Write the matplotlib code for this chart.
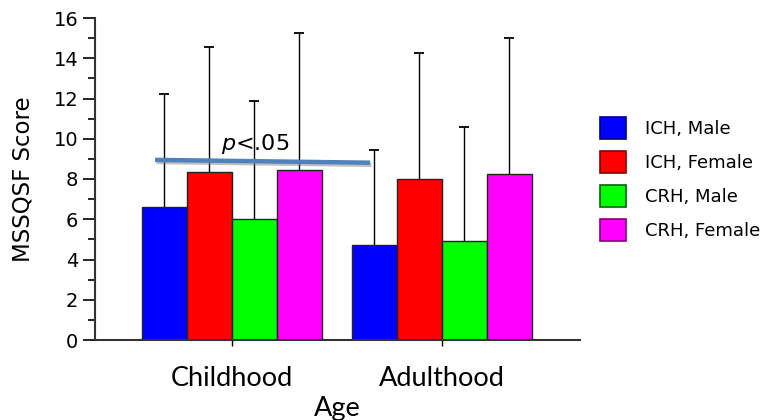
import numpy as np
import matplotlib
matplotlib.use("Agg")
import matplotlib.pyplot as plt
from matplotlib.patches import Patch
import matplotlib.patheffects as pe

# groups along the x axis
groups = ["Childhood", "Adulthood"]
series = ["ICH, Male", "ICH, Female", "CRH, Male", "CRH, Female"]

# bar heights (mean) and top of error bar, per series, [childhood, adulthood]
means = {
    "ICH, Male": [6.6, 4.72],
    "ICH, Female": [8.35, 8.0],
    "CRH, Male": [6.0, 4.92],
    "CRH, Female": [8.45, 8.23],
}
tops = {
    "ICH, Male": [12.22, 9.46],
    "ICH, Female": [14.57, 14.25],
    "CRH, Male": [11.88, 10.57],
    "CRH, Female": [15.24, 15.02],
}

face = ["#0000ff", "#ff0000", "#00ff00", "#ff00ff"]
edge_leg = ["#00008b", "#8b0000", "#006400", "#800080"]

# significance line
sig_x = [-0.365, 0.659]
sig_y = [8.95, 8.81]

fig = plt.figure(figsize=(7.69, 4.2), dpi=100)
ax = fig.add_axes([95 / 769, 80 / 420, 485 / 769, 322 / 420])

x = np.arange(len(groups))
w = 0.214
for i, s in enumerate(series):
    pos = x + (i - 1.5) * w
    m = np.array(means[s])
    err = np.array(tops[s]) - m
    ax.bar(pos, m, w, color=face[i], edgecolor="#222222", linewidth=1.0, zorder=2)
    # symmetric bar, lower half hidden behind the bar
    ax.errorbar(pos, m, yerr=err, fmt="none",
                ecolor="black", elinewidth=1.0, capsize=3.5, capthick=1.3, zorder=1)

ax.plot(sig_x, sig_y, color="#4f81bd", linewidth=3.2, solid_capstyle="butt", zorder=3,
        path_effects=[pe.SimpleLineShadow(offset=(1, -1.5), shadow_color="gray", alpha=0.5),
                      pe.Normal()])
ax.text(0.11, 9.45, r"$p$<.05", fontsize=16, ha="center", va="baseline")

ax.set_xlim(-0.651, 1.659)
ax.set_ylim(0, 16)
ax.set_yticks(np.arange(0, 17, 2))
ax.set_yticks(np.arange(1, 16, 2), minor=True)
ax.tick_params(axis="y", which="major", direction="out", length=9, width=1.2, labelsize=14, pad=3)
ax.tick_params(axis="y", which="minor", direction="out", length=5, width=1.2)
ax.set_xticks(x)
ax.set_xticklabels(groups, fontsize=19.5, family="Lato")
ax.tick_params(axis="x", direction="out", length=4, width=1, pad=15)

for sp in ["top", "right"]:
    ax.spines[sp].set_visible(False)
ax.spines["left"].set_linewidth(1.5)
ax.spines["bottom"].set_linewidth(1.5)
ax.spines["left"].set_color("#333333")
ax.spines["bottom"].set_color("#333333")

ax.set_ylabel("MSSQSF Score", fontsize=16.5, labelpad=14)
ax.set_xlabel("Age", fontsize=19.5, family="Lato", labelpad=3)

handles = [Patch(facecolor=face[i], edgecolor=edge_leg[i], linewidth=1.2) for i in range(4)]
fig.legend(handles, series, loc="upper left", bbox_to_anchor=(593 / 769, 1 - 110 / 420),
           frameon=False, fontsize=13, handlelength=1.45, handleheight=1.45,
           labelspacing=0.7, handletextpad=1.05, borderaxespad=0)

fig.savefig("out.png", dpi=100)
